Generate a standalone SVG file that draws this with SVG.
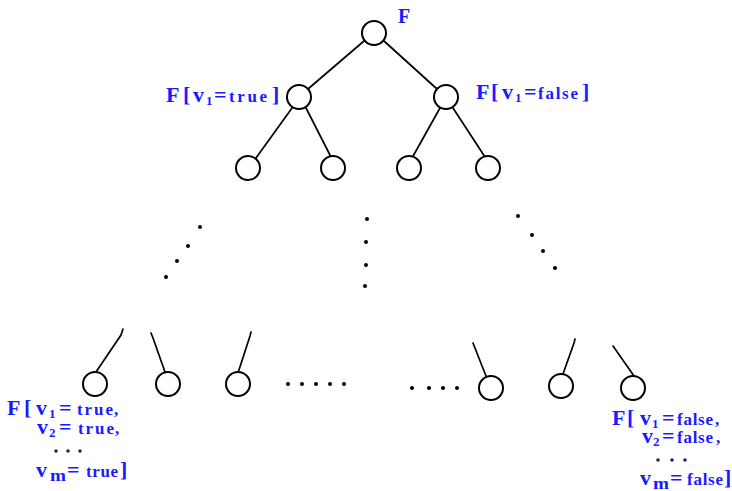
<svg xmlns="http://www.w3.org/2000/svg" width="732" height="491" viewBox="0 0 732 491">
<style>
.n{fill:#fff;stroke:#000;stroke-width:2}
.e{fill:none;stroke:#000;stroke-width:1.7;stroke-linecap:round}
.d{fill:#000}
.t{font-family:"Liberation Serif","Times New Roman",serif;font-weight:bold;fill:#1a1aff}
.b{font-size:22px}
.s{font-size:13px}
.w{font-size:17px}
.m{font-size:17px}
.ld{fill:#202080}
</style>
<rect width="732" height="491" fill="#fff"/>
<g id="connectors">
<line class="e" x1="364" y1="41" x2="308" y2="89"/>
<line class="e" x1="384" y1="41" x2="437" y2="89"/>
<line class="e" x1="292" y1="108" x2="256" y2="158"/>
<line class="e" x1="306" y1="108" x2="331" y2="157"/>
<line class="e" x1="440" y1="108" x2="412" y2="158"/>
<line class="e" x1="453" y1="108" x2="485" y2="157"/>
<polyline class="e" points="123,329 121,335 96,372"/>
<polyline class="e" points="151,333 153,338 165,372"/>
<polyline class="e" points="251,332 250,336 237,376"/>
<line class="e" x1="473" y1="343" x2="486" y2="376"/>
<polyline class="e" points="575,339 574,343 563,374"/>
<line class="e" x1="613" y1="346" x2="634" y2="376"/>
</g>
<g id="ellipsis">
<circle class="d" cx="200" cy="227" r="2"/><circle class="d" cx="188" cy="246" r="2"/><circle class="d" cx="177" cy="261" r="2"/><circle class="d" cx="166" cy="277" r="2"/>
<circle class="d" cx="367" cy="219" r="2"/><circle class="d" cx="366" cy="242" r="2"/><circle class="d" cx="366" cy="265" r="2"/><circle class="d" cx="365" cy="286" r="2"/>
<circle class="d" cx="518" cy="216" r="2"/><circle class="d" cx="532" cy="235" r="2"/><circle class="d" cx="543" cy="251" r="2"/><circle class="d" cx="555" cy="268" r="2"/>
<circle class="d" cx="288" cy="384" r="2"/><circle class="d" cx="302" cy="384" r="2"/><circle class="d" cx="316" cy="384" r="2"/><circle class="d" cx="330" cy="384" r="2"/><circle class="d" cx="344" cy="384" r="2"/>
<circle class="d" cx="412" cy="388" r="2"/><circle class="d" cx="429" cy="388" r="2"/><circle class="d" cx="443" cy="388" r="2"/><circle class="d" cx="457" cy="388" r="2"/>
</g>
<g id="root"><circle class="n" cx="374" cy="33" r="12"/><text class="t" x="398" y="23" font-size="20">F</text></g>
<g id="n-true"><circle class="n" cx="299" cy="97" r="12"/>
<text class="t b" x="166" y="102">F</text><text class="t b" x="183" y="102">[</text><text class="t b" x="193" y="102">v</text><text class="t s" x="206" y="105">1</text><text class="t b" x="214" y="102">=</text><text class="t w" x="229" y="102" textLength="38" lengthAdjust="spacing">true</text><text class="t b" x="272" y="102">]</text>
</g>
<g id="n-false"><circle class="n" cx="446" cy="97" r="12"/>
<text class="t b" x="476" y="99">F</text><text class="t b" x="491" y="99">[</text><text class="t b" x="502" y="99">v</text><text class="t s" x="515" y="102">1</text><text class="t b" x="524" y="99">=</text><text class="t w" x="538" y="99" textLength="40" lengthAdjust="spacing">false</text><text class="t b" x="582" y="99">]</text>
</g>
<g id="n-a"><circle class="n" cx="248" cy="168" r="12"/></g>
<g id="n-b"><circle class="n" cx="333" cy="168" r="12"/></g>
<g id="n-c"><circle class="n" cx="409" cy="168" r="12"/></g>
<g id="n-d"><circle class="n" cx="488" cy="168" r="12"/></g>
<g id="leaf1"><circle class="n" cx="95" cy="384" r="12"/>
<text class="t b" x="7" y="415">F</text><text class="t b" x="24" y="415">[</text><text class="t b" x="36" y="415">v</text><text class="t s" x="49" y="418">1</text><text class="t b" x="59" y="415">=</text><text class="t w" x="77" y="415" textLength="36" lengthAdjust="spacing">true</text><text class="t w" x="114" y="415">,</text>
<text class="t b" x="37" y="434">v</text><text class="t s" x="49" y="437">2</text><text class="t b" x="59" y="434">=</text><text class="t w" x="78" y="434" textLength="36" lengthAdjust="spacing">true</text><text class="t w" x="115" y="434">,</text>
<circle class="ld" cx="56" cy="451" r="1.8"/><circle class="ld" cx="68" cy="451" r="1.8"/><circle class="ld" cx="80" cy="451" r="1.8"/>
<text class="t b" x="36" y="477">v</text><text class="t m" x="50" y="481" textLength="16" lengthAdjust="spacingAndGlyphs">m</text><text class="t b" x="67" y="477">=</text><text class="t w" x="86" y="477" textLength="32" lengthAdjust="spacing">true</text><text class="t b" x="120" y="477">]</text>
</g>
<g id="leaf2"><circle class="n" cx="168" cy="384" r="12"/></g>
<g id="leaf3"><circle class="n" cx="238" cy="384" r="12"/></g>
<g id="leaf4"><circle class="n" cx="491" cy="388" r="12"/></g>
<g id="leaf5"><circle class="n" cx="561" cy="386" r="12"/></g>
<g id="leaf6"><circle class="n" cx="633" cy="388" r="12"/>
<text class="t b" x="612" y="425">F</text><text class="t b" x="627" y="425">[</text><text class="t b" x="640" y="425">v</text><text class="t s" x="652" y="428">1</text><text class="t b" x="662" y="425">=</text><text class="t w" x="677" y="425" textLength="36" lengthAdjust="spacing">false</text><text class="t w" x="715" y="425">,</text>
<text class="t b" x="642" y="443">v</text><text class="t s" x="653" y="446">2</text><text class="t b" x="662" y="443">=</text><text class="t w" x="677" y="443" textLength="36" lengthAdjust="spacing">false</text><text class="t w" x="716" y="443">,</text>
<circle class="ld" cx="658" cy="460" r="1.8"/><circle class="ld" cx="672" cy="460" r="1.8"/><circle class="ld" cx="685" cy="460" r="1.8"/>
<text class="t b" x="640" y="485">v</text><text class="t m" x="653" y="489" textLength="16" lengthAdjust="spacingAndGlyphs">m</text><text class="t b" x="670" y="485">=</text><text class="t w" x="687" y="485" textLength="36" lengthAdjust="spacing">false</text><text class="t b" x="724" y="485">]</text>
</g>
</svg>
